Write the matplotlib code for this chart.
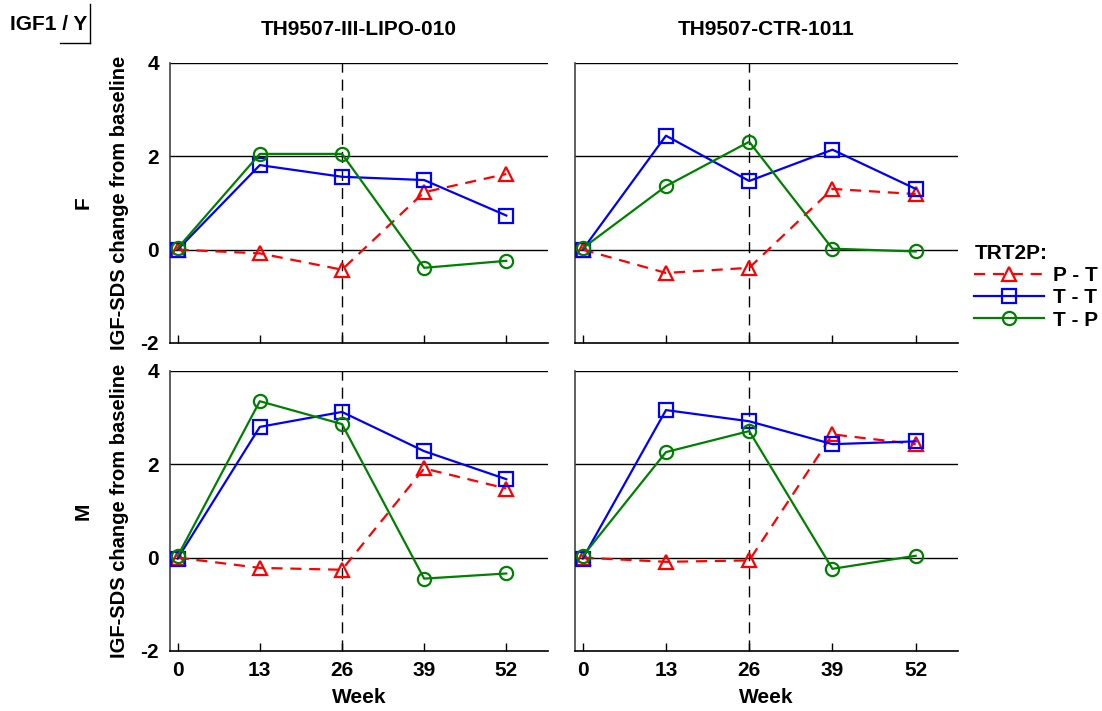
import matplotlib.pyplot as plt
from matplotlib.lines import Line2D

plt.rcParams['font.family'] = ['Liberation Sans', 'DejaVu Sans']
plt.rcParams['font.weight'] = 'bold'
plt.rcParams['axes.unicode_minus'] = False

weeks = [0, 13, 26, 39, 52]
studies = ['TH9507-III-LIPO-010', 'TH9507-CTR-1011']
sexes = ['F', 'M']
groups = ['P - T', 'T - T', 'T - P']

# values[sex][study][group]
values = {
    'F': {
        'TH9507-III-LIPO-010': {
            'P - T': [0.0, -0.08, -0.43, 1.23, 1.62],
            'T - T': [0.0, 1.81, 1.56, 1.49, 0.73],
            'T - P': [0.03, 2.05, 2.05, -0.39, -0.24],
        },
        'TH9507-CTR-1011': {
            'P - T': [0.0, -0.50, -0.39, 1.30, 1.19],
            'T - T': [0.0, 2.44, 1.47, 2.14, 1.30],
            'T - P': [0.03, 1.36, 2.31, 0.02, -0.04],
        },
    },
    'M': {
        'TH9507-III-LIPO-010': {
            'P - T': [0.0, -0.22, -0.26, 1.91, 1.48],
            'T - T': [-0.02, 2.80, 3.12, 2.28, 1.68],
            'T - P': [0.03, 3.35, 2.86, -0.45, -0.34],
        },
        'TH9507-CTR-1011': {
            'P - T': [0.0, -0.09, -0.06, 2.64, 2.43],
            'T - T': [-0.02, 3.16, 2.92, 2.43, 2.49],
            'T - P': [0.03, 2.26, 2.71, -0.24, 0.04],
        },
    },
}

styles = {
    'P - T': dict(color='#ff0000', ls=(0, (5, 3.5)), marker='^'),
    'T - T': dict(color='#0000ff', ls='-', marker='s'),
    'T - P': dict(color='#008000', ls='-', marker='o'),
}

FS = 15

fig = plt.figure(figsize=(11.02, 7.11), dpi=100)

lefts = [0.1543, 0.5218]
widths = [0.343, 0.3475]
bottoms = [0.5176, 0.0844]
height = 0.394

for r, sex in enumerate(sexes):
    for c, study in enumerate(studies):
        ax = fig.add_axes([lefts[c], bottoms[r], widths[c], height])
        for yv in [0, 2, 4]:
            ax.axhline(yv, color='black', lw=1, zorder=1)
        ax.axvline(26, color='black', lw=1, ls=(0, (8, 5)), zorder=1)
        for g in groups:
            st = styles[g]
            ax.plot(weeks, values[sex][study][g], color=st['color'], ls=st['ls'],
                    marker=st['marker'], markersize=9.5, mfc='none', mec=st['color'],
                    mew=1.6, lw=1.6, zorder=3, label=g)
        ax.set_xlim(-1.2, 58.6)
        ax.set_ylim(-2, 4)
        ax.set_yticks([-2, 0, 2, 4])
        ax.set_xticks(weeks)
        ax.spines['top'].set_visible(False)
        ax.spines['right'].set_visible(False)
        ax.spines['left'].set_color('#444444')
        ax.spines['left'].set_linewidth(1.2)
        ax.spines['bottom'].set_linewidth(1.2)
        ax.tick_params(axis='x', direction='in', length=6, width=1, labelsize=FS, pad=7)
        ax.tick_params(axis='y', length=0, labelsize=FS, pad=8)
        if c == 0:
            ax.set_ylabel('IGF-SDS change from baseline', fontsize=14.5, fontweight='bold', labelpad=8)
        else:
            ax.set_yticklabels([])
        if r == 0:
            ax.set_xticklabels([])
            ax.set_title(study, fontsize=FS, fontweight='bold', pad=20)
        else:
            ax.set_xlabel('Week', fontsize=FS, fontweight='bold', labelpad=6)

for r, sex in enumerate(sexes):
    fig.text(0.075, bottoms[r] + height / 2, sex, rotation=90, fontsize=FS,
             fontweight='bold', ha='center', va='center')

# top-left label with box lines
fig.text(0.009, 0.966, 'IGF1 / Y', fontsize=FS, fontweight='bold', ha='left', va='center')
fig.add_artist(Line2D([0.054, 0.082], [0.940, 0.940], color='black', lw=1))
fig.add_artist(Line2D([0.082, 0.082], [0.940, 0.995], color='black', lw=1))

handles = [Line2D([], [], color=styles[g]['color'], ls=styles[g]['ls'], marker=styles[g]['marker'],
                  markersize=9.5, mfc='none', mew=1.6, lw=1.6) for g in groups]
leg = fig.legend(handles, groups, loc='upper left', bbox_to_anchor=(0.871, 0.677), frameon=False,
                 title='TRT2P:', fontsize=FS, title_fontsize=FS, handlelength=3.35,
                 labelspacing=0.15, alignment='left', handletextpad=0.4,
                 borderpad=0.2)
leg.get_title().set_fontweight('bold')

fig.savefig('out.png', dpi=100)
